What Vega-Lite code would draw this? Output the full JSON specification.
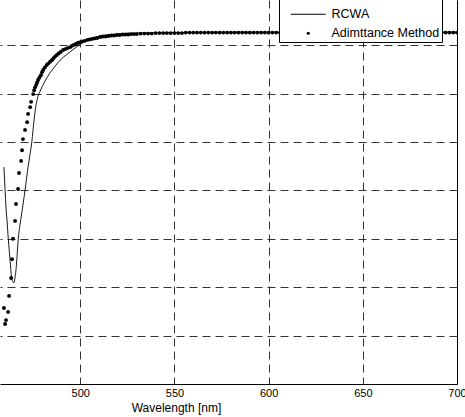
{
  "$schema": "https://vega.github.io/schema/vega-lite/v6.json",
  "width": 457,
  "height": 384,
  "autosize": "none",
  "padding": {"left": 0, "top": 0, "right": 8, "bottom": 33},
  "background": "white",
  "config": {"font": "Liberation Sans", "view": {"stroke": null}},
  "datasets": {
    "rcwa": [
      {"w": 459.5, "r": 0.648, "s": "RCWA"},
      {"w": 460.1, "r": 0.600, "s": "RCWA"},
      {"w": 460.6, "r": 0.564, "s": "RCWA"},
      {"w": 461.1, "r": 0.539, "s": "RCWA"},
      {"w": 461.8, "r": 0.500, "s": "RCWA"},
      {"w": 462.7, "r": 0.458, "s": "RCWA"},
      {"w": 463.6, "r": 0.419, "s": "RCWA"},
      {"w": 464.3, "r": 0.411, "s": "RCWA"},
      {"w": 464.8, "r": 0.409, "s": "RCWA"},
      {"w": 465.3, "r": 0.418, "s": "RCWA"},
      {"w": 465.9, "r": 0.436, "s": "RCWA"},
      {"w": 467.1, "r": 0.500, "s": "RCWA"},
      {"w": 468.4, "r": 0.539, "s": "RCWA"},
      {"w": 469.6, "r": 0.570, "s": "RCWA"},
      {"w": 470.7, "r": 0.601, "s": "RCWA"},
      {"w": 472.3, "r": 0.648, "s": "RCWA"},
      {"w": 473.4, "r": 0.676, "s": "RCWA"},
      {"w": 474.4, "r": 0.704, "s": "RCWA"},
      {"w": 475.2, "r": 0.735, "s": "RCWA"},
      {"w": 476.0, "r": 0.762, "s": "RCWA"},
      {"w": 477.6, "r": 0.795, "s": "RCWA"},
      {"w": 478.7, "r": 0.805, "s": "RCWA"},
      {"w": 481.3, "r": 0.826, "s": "RCWA"},
      {"w": 484.0, "r": 0.843, "s": "RCWA"},
      {"w": 486.7, "r": 0.857, "s": "RCWA"},
      {"w": 489.3, "r": 0.869, "s": "RCWA"},
      {"w": 494.6, "r": 0.886, "s": "RCWA"},
      {"w": 500.0, "r": 0.902, "s": "RCWA"},
      {"w": 505.3, "r": 0.913, "s": "RCWA"},
      {"w": 510.6, "r": 0.919, "s": "RCWA"},
      {"w": 520.0, "r": 0.923, "s": "RCWA"},
      {"w": 528.1, "r": 0.925, "s": "RCWA"},
      {"w": 547.8, "r": 0.926, "s": "RCWA"},
      {"w": 590.4, "r": 0.927, "s": "RCWA"},
      {"w": 650.0, "r": 0.927, "s": "RCWA"},
      {"w": 700.0, "r": 0.927, "s": "RCWA"}
    ],
    "adm": [
      {"w": 459.5, "r": 0.357, "s": "Adimttance Method"},
      {"w": 460.1, "r": 0.324, "s": "Adimttance Method"},
      {"w": 460.6, "r": 0.332, "s": "Adimttance Method"},
      {"w": 461.7, "r": 0.349, "s": "Adimttance Method"},
      {"w": 462.2, "r": 0.382, "s": "Adimttance Method"},
      {"w": 463.3, "r": 0.419, "s": "Adimttance Method"},
      {"w": 463.8, "r": 0.458, "s": "Adimttance Method"},
      {"w": 464.3, "r": 0.500, "s": "Adimttance Method"},
      {"w": 465.4, "r": 0.537, "s": "Adimttance Method"},
      {"w": 465.9, "r": 0.572, "s": "Adimttance Method"},
      {"w": 467.0, "r": 0.603, "s": "Adimttance Method"},
      {"w": 467.5, "r": 0.636, "s": "Adimttance Method"},
      {"w": 468.6, "r": 0.661, "s": "Adimttance Method"},
      {"w": 469.1, "r": 0.683, "s": "Adimttance Method"},
      {"w": 469.6, "r": 0.706, "s": "Adimttance Method"},
      {"w": 470.7, "r": 0.725, "s": "Adimttance Method"},
      {"w": 471.8, "r": 0.741, "s": "Adimttance Method"},
      {"w": 472.3, "r": 0.758, "s": "Adimttance Method"},
      {"w": 473.4, "r": 0.772, "s": "Adimttance Method"},
      {"w": 473.9, "r": 0.783, "s": "Adimttance Method"},
      {"w": 475.0, "r": 0.799, "s": "Adimttance Method"},
      {"w": 475.5, "r": 0.807, "s": "Adimttance Method"},
      {"w": 476.0, "r": 0.813, "s": "Adimttance Method"},
      {"w": 476.6, "r": 0.818, "s": "Adimttance Method"},
      {"w": 477.1, "r": 0.823, "s": "Adimttance Method"},
      {"w": 477.6, "r": 0.828, "s": "Adimttance Method"},
      {"w": 478.3, "r": 0.833, "s": "Adimttance Method"},
      {"w": 479.1, "r": 0.838, "s": "Adimttance Method"},
      {"w": 479.7, "r": 0.844, "s": "Adimttance Method"},
      {"w": 480.3, "r": 0.849, "s": "Adimttance Method"},
      {"w": 481.2, "r": 0.854, "s": "Adimttance Method"},
      {"w": 482.2, "r": 0.859, "s": "Adimttance Method"},
      {"w": 483.0, "r": 0.862, "s": "Adimttance Method"},
      {"w": 484.0, "r": 0.866, "s": "Adimttance Method"},
      {"w": 484.9, "r": 0.869, "s": "Adimttance Method"},
      {"w": 485.8, "r": 0.873, "s": "Adimttance Method"},
      {"w": 486.7, "r": 0.877, "s": "Adimttance Method"},
      {"w": 487.6, "r": 0.880, "s": "Adimttance Method"},
      {"w": 488.5, "r": 0.883, "s": "Adimttance Method"},
      {"w": 489.6, "r": 0.886, "s": "Adimttance Method"},
      {"w": 490.9, "r": 0.890, "s": "Adimttance Method"},
      {"w": 492.0, "r": 0.892, "s": "Adimttance Method"},
      {"w": 493.2, "r": 0.894, "s": "Adimttance Method"},
      {"w": 494.6, "r": 0.896, "s": "Adimttance Method"},
      {"w": 495.7, "r": 0.899, "s": "Adimttance Method"},
      {"w": 496.8, "r": 0.901, "s": "Adimttance Method"},
      {"w": 497.9, "r": 0.903, "s": "Adimttance Method"},
      {"w": 498.9, "r": 0.905, "s": "Adimttance Method"},
      {"w": 500.0, "r": 0.906, "s": "Adimttance Method"},
      {"w": 501.2, "r": 0.908, "s": "Adimttance Method"},
      {"w": 502.4, "r": 0.909, "s": "Adimttance Method"},
      {"w": 503.7, "r": 0.911, "s": "Adimttance Method"},
      {"w": 505.0, "r": 0.912, "s": "Adimttance Method"},
      {"w": 506.3, "r": 0.913, "s": "Adimttance Method"},
      {"w": 507.6, "r": 0.914, "s": "Adimttance Method"},
      {"w": 509.0, "r": 0.915, "s": "Adimttance Method"},
      {"w": 510.6, "r": 0.917, "s": "Adimttance Method"},
      {"w": 512.0, "r": 0.918, "s": "Adimttance Method"},
      {"w": 513.5, "r": 0.918, "s": "Adimttance Method"},
      {"w": 515.0, "r": 0.919, "s": "Adimttance Method"},
      {"w": 516.5, "r": 0.920, "s": "Adimttance Method"},
      {"w": 518.0, "r": 0.920, "s": "Adimttance Method"},
      {"w": 519.5, "r": 0.921, "s": "Adimttance Method"},
      {"w": 521.0, "r": 0.921, "s": "Adimttance Method"},
      {"w": 522.5, "r": 0.922, "s": "Adimttance Method"},
      {"w": 524.0, "r": 0.922, "s": "Adimttance Method"},
      {"w": 525.5, "r": 0.922, "s": "Adimttance Method"},
      {"w": 527.0, "r": 0.923, "s": "Adimttance Method"},
      {"w": 528.5, "r": 0.923, "s": "Adimttance Method"},
      {"w": 530.0, "r": 0.923, "s": "Adimttance Method"},
      {"w": 532, "r": 0.924, "s": "Adimttance Method"},
      {"w": 534, "r": 0.924, "s": "Adimttance Method"},
      {"w": 536, "r": 0.924, "s": "Adimttance Method"},
      {"w": 538, "r": 0.924, "s": "Adimttance Method"},
      {"w": 540, "r": 0.925, "s": "Adimttance Method"},
      {"w": 542, "r": 0.925, "s": "Adimttance Method"},
      {"w": 544, "r": 0.925, "s": "Adimttance Method"},
      {"w": 546, "r": 0.925, "s": "Adimttance Method"},
      {"w": 548, "r": 0.925, "s": "Adimttance Method"},
      {"w": 550, "r": 0.925, "s": "Adimttance Method"},
      {"w": 552, "r": 0.925, "s": "Adimttance Method"},
      {"w": 554, "r": 0.925, "s": "Adimttance Method"},
      {"w": 556, "r": 0.926, "s": "Adimttance Method"},
      {"w": 558, "r": 0.926, "s": "Adimttance Method"},
      {"w": 560, "r": 0.926, "s": "Adimttance Method"},
      {"w": 562, "r": 0.926, "s": "Adimttance Method"},
      {"w": 564, "r": 0.926, "s": "Adimttance Method"},
      {"w": 566, "r": 0.926, "s": "Adimttance Method"},
      {"w": 568, "r": 0.926, "s": "Adimttance Method"},
      {"w": 570, "r": 0.926, "s": "Adimttance Method"},
      {"w": 572, "r": 0.926, "s": "Adimttance Method"},
      {"w": 574, "r": 0.926, "s": "Adimttance Method"},
      {"w": 576, "r": 0.926, "s": "Adimttance Method"},
      {"w": 578, "r": 0.926, "s": "Adimttance Method"},
      {"w": 580, "r": 0.926, "s": "Adimttance Method"},
      {"w": 582, "r": 0.926, "s": "Adimttance Method"},
      {"w": 584, "r": 0.926, "s": "Adimttance Method"},
      {"w": 586, "r": 0.926, "s": "Adimttance Method"},
      {"w": 588, "r": 0.926, "s": "Adimttance Method"},
      {"w": 590, "r": 0.926, "s": "Adimttance Method"},
      {"w": 592, "r": 0.926, "s": "Adimttance Method"},
      {"w": 594, "r": 0.926, "s": "Adimttance Method"},
      {"w": 596, "r": 0.926, "s": "Adimttance Method"},
      {"w": 598, "r": 0.926, "s": "Adimttance Method"},
      {"w": 600, "r": 0.926, "s": "Adimttance Method"},
      {"w": 602, "r": 0.926, "s": "Adimttance Method"},
      {"w": 604, "r": 0.926, "s": "Adimttance Method"},
      {"w": 606, "r": 0.926, "s": "Adimttance Method"},
      {"w": 608, "r": 0.926, "s": "Adimttance Method"},
      {"w": 610, "r": 0.926, "s": "Adimttance Method"},
      {"w": 612, "r": 0.926, "s": "Adimttance Method"},
      {"w": 614, "r": 0.926, "s": "Adimttance Method"},
      {"w": 616, "r": 0.926, "s": "Adimttance Method"},
      {"w": 618, "r": 0.926, "s": "Adimttance Method"},
      {"w": 620, "r": 0.926, "s": "Adimttance Method"},
      {"w": 622, "r": 0.926, "s": "Adimttance Method"},
      {"w": 624, "r": 0.926, "s": "Adimttance Method"},
      {"w": 626, "r": 0.926, "s": "Adimttance Method"},
      {"w": 628, "r": 0.926, "s": "Adimttance Method"},
      {"w": 630, "r": 0.926, "s": "Adimttance Method"},
      {"w": 632, "r": 0.926, "s": "Adimttance Method"},
      {"w": 634, "r": 0.926, "s": "Adimttance Method"},
      {"w": 636, "r": 0.926, "s": "Adimttance Method"},
      {"w": 638, "r": 0.926, "s": "Adimttance Method"},
      {"w": 640, "r": 0.926, "s": "Adimttance Method"},
      {"w": 642, "r": 0.926, "s": "Adimttance Method"},
      {"w": 644, "r": 0.926, "s": "Adimttance Method"},
      {"w": 646, "r": 0.926, "s": "Adimttance Method"},
      {"w": 648, "r": 0.926, "s": "Adimttance Method"},
      {"w": 650, "r": 0.926, "s": "Adimttance Method"},
      {"w": 652, "r": 0.926, "s": "Adimttance Method"},
      {"w": 654, "r": 0.926, "s": "Adimttance Method"},
      {"w": 656, "r": 0.926, "s": "Adimttance Method"},
      {"w": 658, "r": 0.926, "s": "Adimttance Method"},
      {"w": 660, "r": 0.926, "s": "Adimttance Method"},
      {"w": 662, "r": 0.926, "s": "Adimttance Method"},
      {"w": 664, "r": 0.926, "s": "Adimttance Method"},
      {"w": 666, "r": 0.926, "s": "Adimttance Method"},
      {"w": 668, "r": 0.926, "s": "Adimttance Method"},
      {"w": 670, "r": 0.926, "s": "Adimttance Method"},
      {"w": 672, "r": 0.926, "s": "Adimttance Method"},
      {"w": 674, "r": 0.926, "s": "Adimttance Method"},
      {"w": 676, "r": 0.926, "s": "Adimttance Method"},
      {"w": 678, "r": 0.926, "s": "Adimttance Method"},
      {"w": 680, "r": 0.926, "s": "Adimttance Method"},
      {"w": 682, "r": 0.926, "s": "Adimttance Method"},
      {"w": 684, "r": 0.926, "s": "Adimttance Method"},
      {"w": 686, "r": 0.926, "s": "Adimttance Method"},
      {"w": 688, "r": 0.926, "s": "Adimttance Method"},
      {"w": 690, "r": 0.926, "s": "Adimttance Method"},
      {"w": 692, "r": 0.926, "s": "Adimttance Method"},
      {"w": 694, "r": 0.926, "s": "Adimttance Method"},
      {"w": 696, "r": 0.926, "s": "Adimttance Method"},
      {"w": 698, "r": 0.926, "s": "Adimttance Method"},
      {"w": 700, "r": 0.926, "s": "Adimttance Method"}
    ]
  },
  "encoding": {
    "x": {
      "field": "w", "type": "quantitative",
      "scale": {"domain": [457.4, 700], "nice": false, "zero": false},
      "axis": {
        "values": [500, 550, 600, 650, 700],
        "title": "Wavelength [nm]",
        "titleFont": "Liberation Sans", "titleFontSize": 12, "titleFontWeight": "normal", "titleColor": "black",
        "titleX": 176, "titleY": 23, "titleBaseline": "middle", "titleAnchor": "middle", "titleAlign": "center",
        "labelFont": "Liberation Sans", "labelFontSize": 11, "labelColor": "black", "labelPadding": 3, "labelFlush": false,
        "ticks": false,
        "domainColor": "black", "domainWidth": 1,
        "grid": true, "gridColor": "#333333", "gridDash": [8, 5], "gridWidth": 1, "gridOpacity": 1
      }
    },
    "y": {
      "field": "r", "type": "quantitative",
      "scale": {"domain": [0.2, 0.9934], "nice": false, "zero": false},
      "axis": {
        "orient": "right",
        "values": [0.3, 0.4, 0.5, 0.6, 0.7, 0.8, 0.9],
        "title": null, "labels": false, "ticks": false,
        "domainColor": "black", "domainWidth": 1,
        "grid": true, "gridColor": "#333333", "gridDash": [8, 5], "gridWidth": 1, "gridOpacity": 1
      }
    }
  },
  "layer": [
    {
      "data": {"name": "rcwa"},
      "mark": {"type": "line", "color": "black", "strokeWidth": 0.9, "clip": true, "interpolate": "monotone"}
    },
    {
      "data": {"name": "adm"},
      "mark": {"type": "point", "filled": true, "color": "black", "size": 15, "opacity": 1, "clip": true},
      "encoding": {
        "shape": {
          "field": "s", "type": "nominal",
          "scale": {"domain": ["RCWA", "Adimttance Method"], "range": ["M-11,-0.35H11V0.35H-11Z", "circle"]},
          "legend": {
            "orient": "none", "legendX": 279, "legendY": -10,
            "title": " ", "titleFontSize": 12, "titlePadding": 4,
            "padding": 2, "rowPadding": 6,
            "labelFont": "Liberation Sans", "labelFontSize": 12.5, "labelColor": "black", "labelLimit": 300,
            "symbolSize": 10, "symbolOffset": 21, "labelOffset": 17,
            "symbolStrokeColor": "black", "symbolFillColor": "black", "symbolStrokeWidth": 0,
            "strokeColor": "black", "fillColor": "white"
          }
        }
      }
    }
  ]
}
